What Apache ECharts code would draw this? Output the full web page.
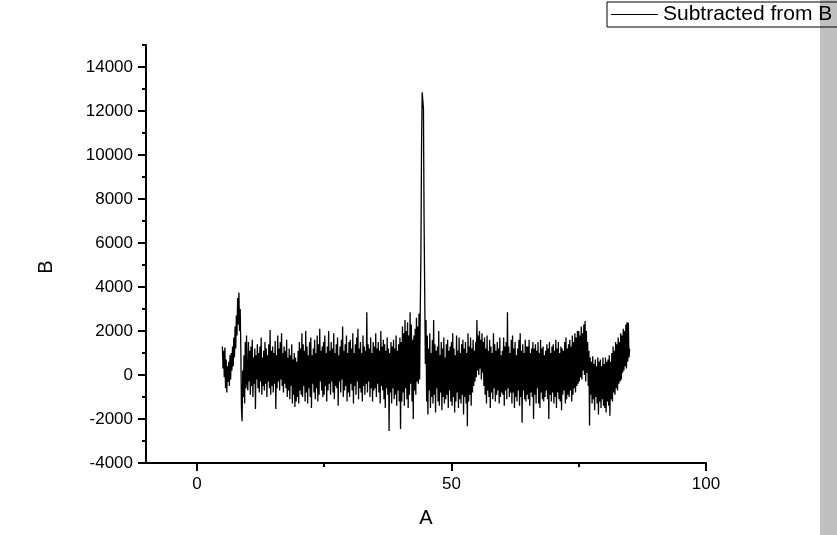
<!DOCTYPE html>
<html>
<head>
<meta charset="utf-8">
<script src="https://cdn.jsdelivr.net/npm/echarts@6/dist/echarts.min.js"></script>
<style>html,body{margin:0;padding:0;background:#fff;}#c{width:837px;height:535px;}</style>
</head>
<body>
<div id="c"></div>
<script>
// ---- data ----
const seriesName = 'Subtracted from B';
const xStart = 5;       // first A value
const xStep = 0.125;    // sample spacing along A
const bValues = [
  // A 5.0 - 9.875
  1300, 300, 1100, -100, 1250, -600, 700, -800, 400, -300, 600, -500, 900, -200, 1000, 200, 1300, 400, 1700, 800,
  2200, 1200, 2700, 1800, 3500, 2300, 3750, 2000, 3000, 1200, -1500, -2100, 200, -1000, 900, -1300, 1500, -600, 1800, -300,
  // A 10.0 - 14.875
  -700, 1500, -300, 1100, -900, 1300, -500, 1600, -1000, 800, -400, 1200, -1550, 900, -200, 1400, -600, 1000, -800, 1300,
  -300, 1700, -900, 800, -500, 1100, -700, 1500, -400, 1200, -1000, 900, -300, 1400, -600, 2050, -900, 1100, -500, 1300,
  // A 15.0 - 19.875
  -800, 1000, -400, 1550, -1550, 900, -600, 1800, -300, 1200, -700, 1500, -200, 1900, -500, 1000, -800, 1300, -400, 1100,
  -600, 1600, -1000, 800, -700, 1200, -1100, 900, -500, 1400, -1300, 700, -900, 1000, -1450, 800, -1200, 600, -1000, 1100,
  // A 20.0 - 24.875
  -1300, 1500, -700, 1200, -900, 1900, -1000, 1400, -500, 1100, -1200, 2000, -800, 1300, -1300, 900, -600, 1500, -1000, 1700,
  -1500, 900, -400, 1200, -800, 1600, -1100, 1000, -600, 1800, -1200, 1400, -900, 2100, -300, 1100, -700, 1300, -1000, 1500,
  // A 25.0 - 29.875
  -900, 1800, -500, 1000, -1200, 1300, -700, 2000, -400, 1100, -900, 1500, -300, 1200, -800, 1900, -1100, 1000, -500, 1400,
  -600, 1700, -1400, 900, -300, 1300, -800, 1600, -200, 2200, -1000, 1100, -700, 1400, -500, 1800, -1200, 1000, -800, 1500,
  // A 30.0 - 34.875
  -1000, 1600, -400, 1200, -700, 1900, -1300, 1000, -500, 1400, -900, 1700, -300, 2100, -1100, 1200, -600, 1500, -800, 1000,
  -1200, 1800, -500, 1300, -900, 1100, -400, 2850, -800, 1400, -300, 1200, -1000, 1700, -600, 1000, -1200, 1500, -700, 1300,
  // A 35.0 - 39.875
  -600, 1900, -1000, 1200, -400, 1500, -800, 1100, -1300, 2000, -500, 1300, -700, 1600, -1100, 1400, -1500, 1100, -600, 1700,
  -900, 1200, -2550, 1000, -800, 1500, -1300, 1300, -600, 1600, -1100, 1200, -900, 1800, -1400, 1100, -700, 1400, -1200, 1700,
  // A 40.0 - 44.875
  -2450, 1500, -1200, 2200, -800, 1900, -1400, 2500, -600, 2000, -1100, 2400, -1500, 1800, -900, 2850, -400, 2300, -1200, 1600,
  -2000, 1800, -700, 2100, -900, 2600, -300, 2200, -400, 2800, -200, 3000, 5500, 10400, 12850, 12800, 12100, 7000, 3700, 500,
  // A 45.0 - 49.875
  2500, -1200, 1800, -1800, 1200, -700, 1900, -1500, 1000, -1000, 1600, -1300, 2500, -900, 1400, -1700, 1100, -600, 1300, -1200,
  2000, -1400, 900, -800, 1500, -1600, 1200, -1000, 1700, -1300, 800, -1100, 1400, -900, 1600, -1500, 1100, -700, 1300, -1200,
  // A 50.0 - 54.875
  1500, -1400, 1900, -1000, 1200, -1700, 900, -1200, 1800, -800, 1100, -1500, 1700, -1100, 1000, -1300, 1400, -900, 1600, -1800,
  1200, -1000, 1500, -1300, 1000, -2330, 1900, -1200, 1300, -900, 1700, -1400, 1200, -800, 1600, -500, 1100, -300, 1500, -100,
  // A 55.0 - 59.875
  2500, 200, 1800, 0, 2000, 300, 1600, -200, 1900, 100, 1500, -500, 1700, -900, 1200, -1300, 1800, -700, 1100, -1000,
  1600, -1500, 1300, -800, 1000, -1100, 1900, -600, 1400, -1200, 1100, -900, 1500, -700, 1200, -1300, 1700, -1000, 900, -800,
  // A 60.0 - 64.875
  1100, -900, 1700, -1400, 1300, -700, 1500, -1100, 2850, -600, 1300, -1000, 1000, -800, 1600, -1300, 1800, -800, 1200, -1500,
  1500, -1000, 900, -1200, 1200, -700, 1600, -1400, 1900, -1000, 1100, -2170, 1400, -700, 1000, -1100, 1600, -1200, 1300, -900,
  // A 65.0 - 69.875
  1300, -1100, 1600, -1400, 1000, -800, 1200, -1000, 1500, -2000, 1200, -900, 1400, -1300, 1100, -600, 1500, -1300, 1000, -1500,
  1600, -800, 1200, -1100, 1300, -1200, 900, -1000, 1100, -700, 1400, -1100, 1200, -2000, 1500, -900, 1000, -1200, 1300, -800,
  // A 70.0 - 74.875
  1400, -1300, 1100, -1000, 1600, -1500, 1200, -800, 1500, -1100, 1000, -1200, 1300, -1600, 1200, -900, 1100, -700, 1500, -1300,
  1700, -1100, 1200, -900, 1400, -1000, 1600, -700, 1300, -1200, 1800, -900, 1500, -600, 1900, -800, 1700, -500, 2000, -400,
  // A 75.0 - 79.875
  2000, -300, 1800, -100, 2200, -200, 1900, 200, 2300, 0, 2450, -300, 2000, 100, 1500, -500, 1100, -2300, 800, -900,
  600, -1300, 850, -1100, 500, -1600, 700, -1000, 400, -1300, 800, -1800, 600, -1200, 700, -1500, 400, -1100, 800, -1400,
  // A 80.0 - 84.875
  500, -1500, 800, -1700, 600, -1200, 700, -1400, 900, -1850, 600, -1100, 1000, -1200, 1300, -800, 1100, -900, 1500, -600,
  1400, -700, 1700, -400, 1500, -300, 1900, -200, 1800, 100, 2100, 200, 2000, 400, 2300, 300, 2400, 600, 2380, 800,
  // A 85.0
  1200
];
const xMajorTicks = [0, 50, 100];
const xMinorTicks = [25, 75];
const yMajorTicks = [-4000, -2000, 0, 2000, 4000, 6000, 8000, 10000, 12000, 14000];
const yMinorTicks = [-3000, -1000, 1000, 3000, 5000, 7000, 9000, 11000, 13000, 15000];
const xName = 'A';
const yName = 'B';

// ---- build ----
const points = bValues.map((v, i) => [xStart + i * xStep, v]);
const FONT = 'Liberation Sans, Arial, sans-serif';
const gridBox = { left: 146, right: 131, top: 45, bottom: 72, containLabel: false };
const plain = v => String(v);

const chart = echarts.init(document.getElementById('c'), null, { renderer: 'canvas' });
chart.setOption({
  animation: false,
  backgroundColor: '#ffffff',
  textStyle: { fontFamily: FONT },
  graphic: [
    { type: 'rect', z: 0, shape: { x: 820, y: 0, width: 17, height: 535 }, style: { fill: '#c0c0c0' } }
  ],
  legend: {
    left: 607, top: 2,
    padding: [2, 12, 2, 4],
    borderColor: '#000', borderWidth: 1,
    backgroundColor: 'transparent',
    icon: 'rect', itemWidth: 47, itemHeight: 1,
    itemStyle: { color: '#000' },
    textStyle: { color: '#000', fontSize: 21, fontFamily: FONT, lineHeight: 21 },
    data: [seriesName]
  },
  grid: [Object.assign({}, gridBox), Object.assign({}, gridBox)],
  xAxis: [
    {
      gridIndex: 0, type: 'value', min: -10, max: 100, position: 'bottom',
      name: xName, nameLocation: 'middle', nameGap: 45,
      nameTextStyle: { color: '#000', fontSize: 20, fontFamily: FONT },
      axisLine: { show: true, onZero: false, lineStyle: { color: '#000', width: 2 } },
      axisTick: { show: true, inside: false, length: 8, customValues: xMajorTicks, lineStyle: { color: '#000', width: 2 } },
      axisLabel: { show: true, customValues: xMajorTicks, formatter: plain, color: '#000', fontSize: 17, margin: 13, fontFamily: FONT },
      splitLine: { show: false }
    },
    {
      gridIndex: 1, type: 'value', min: -10, max: 100, position: 'bottom',
      axisLine: { show: false, onZero: false },
      axisTick: { show: true, inside: false, length: 4, customValues: xMinorTicks, lineStyle: { color: '#000', width: 2 } },
      axisLabel: { show: false },
      splitLine: { show: false }
    }
  ],
  yAxis: [
    {
      gridIndex: 0, type: 'value', min: -4000, max: 15000, position: 'left',
      name: yName, nameLocation: 'middle', nameGap: 90, nameRotate: 90,
      nameTextStyle: { color: '#000', fontSize: 20, fontFamily: FONT, padding: [0, 26, 0, 0] },
      axisLine: { show: true, onZero: false, lineStyle: { color: '#000', width: 2 } },
      axisTick: { show: true, inside: false, length: 8, customValues: yMajorTicks, lineStyle: { color: '#000', width: 2 } },
      axisLabel: { show: true, customValues: yMajorTicks, formatter: plain, color: '#000', fontSize: 17, margin: 13, fontFamily: FONT },
      splitLine: { show: false }
    },
    {
      gridIndex: 1, type: 'value', min: -4000, max: 15000, position: 'left',
      axisLine: { show: false, onZero: false },
      axisTick: { show: true, inside: false, length: 4, customValues: yMinorTicks, lineStyle: { color: '#000', width: 2 } },
      axisLabel: { show: false },
      splitLine: { show: false }
    }
  ],
  series: [
    {
      name: seriesName, type: 'line', xAxisIndex: 0, yAxisIndex: 0,
      data: points, showSymbol: false, symbol: 'none',
      lineStyle: { color: '#000', width: 1.3 }, itemStyle: { color: '#000' },
      clip: true
    }
  ]
});
</script>
</body>
</html>
